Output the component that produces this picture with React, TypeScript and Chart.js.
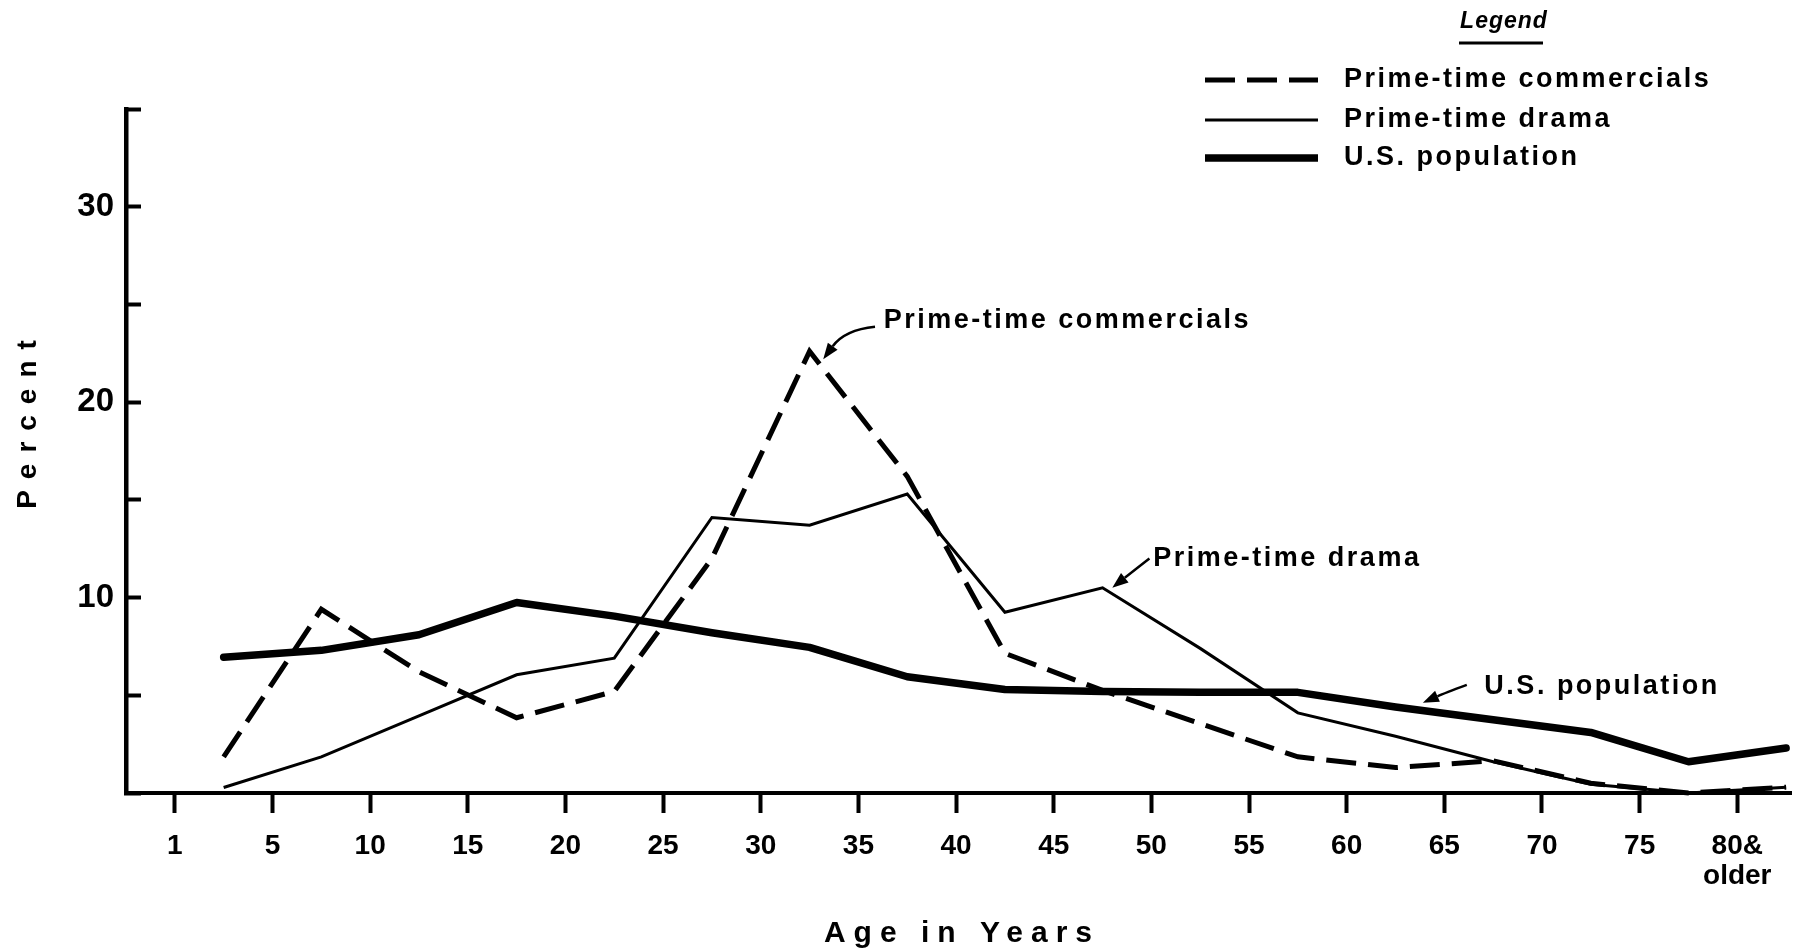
import React, { useEffect, useRef } from "react";
import { Chart, registerables } from "chart.js";

Chart.register(...registerables);

// ---- Data ----
// x axis: tick i sits at age boundary label ageTickLabels[i]; each age group is plotted between two ticks
const ageTickLabels: (string | string[])[] = [
  "1", "5", "10", "15", "20", "25", "30", "35", "40", "45", "50", "55", "60", "65", "70", "75", ["80&", "older"],
];
const ageGroupPositions = [0.5, 1.5, 2.5, 3.5, 4.5, 5.5, 6.5, 7.5, 8.5, 9.5, 10.5, 11.5, 12.5, 13.5, 14.5, 15.5, 16.5];

const seriesNames = ["Prime-time commercials", "Prime-time drama", "U.S. population"];

const primeTimeCommercials = [1.85, 9.4, 6.2, 3.85, 5.2, 12.0, 22.6, 16.2, 7.15, 5.25, 3.55, 1.85, 1.3, 1.65, 0.5, 0.0, 0.3];
const primeTimeDrama = [0.28, 1.85, 3.95, 6.05, 6.9, 14.1, 13.7, 15.3, 9.25, 10.5, 7.4, 4.1, 2.9, 1.6, 0.45, 0.0, 0.3];
const usPopulation = [6.95, 7.3, 8.1, 9.75, 9.05, 8.2, 7.45, 5.95, 5.3, 5.2, 5.15, 5.15, 4.4, 3.75, 3.1, 1.6, 2.3];

const yTickValues = [0, 5, 10, 15, 20, 25, 30, 35];
const yLabeledTicks = [10, 20, 30];

const xAxisTitle = "Age in Years";
const yAxisTitle = "Percent";
const legendTitle = "Legend";

// callout labels, placed in data units (x = axis position, y = percent)
const callouts = [
  { text: "Prime-time commercials", tx: 7.26, ty: 24.15, from: [7.17, 23.86], ctrl: [6.86, 23.7], to: [6.64, 22.2] },
  { text: "Prime-time drama", tx: 10.02, ty: 12.02, from: [9.98, 12.0], ctrl: [9.8, 11.3], to: [9.6, 10.5] },
  { text: "U.S. population", tx: 13.41, ty: 5.47, from: [13.23, 5.53], ctrl: [13.0, 5.1], to: [12.78, 4.62] },
];

const FONT = "'Liberation Sans', Arial, Helvetica, sans-serif";

const decorPlugin = {
  id: "decor",
  afterDraw(chart: any) {
    const ctx: CanvasRenderingContext2D = chart.ctx;
    const xs = chart.scales.x;
    const ys = chart.scales.y;
    const ds = chart.data.datasets;
    ctx.save();
    ctx.fillStyle = "#000";
    ctx.strokeStyle = "#000";

    // axis titles
    ctx.textAlign = "center";
    ctx.textBaseline = "middle";
    (ctx as any).letterSpacing = "11px";
    ctx.font = `bold 28px ${FONT}`;
    ctx.save();
    ctx.translate(28, 419);
    ctx.rotate(-Math.PI / 2);
    ctx.fillText(yAxisTitle, 0, 0);
    ctx.restore();

    (ctx as any).letterSpacing = "8px";
    ctx.font = `bold 30px ${FONT}`;
    ctx.fillText(xAxisTitle, 962, 934);

    // legend
    (ctx as any).letterSpacing = "1px";
    ctx.font = `italic bold 23px ${FONT}`;
    ctx.fillText(legendTitle, 1504, 22);
    ctx.lineWidth = 3;
    ctx.beginPath();
    ctx.moveTo(1459, 43);
    ctx.lineTo(1543, 43);
    ctx.stroke();

    const rowsY = [80, 120, 158];
    ctx.textAlign = "left";
    (ctx as any).letterSpacing = "2.5px";
    ctx.font = `bold 27px ${FONT}`;
    ds.forEach((d: any, i: number) => {
      ctx.save();
      ctx.lineWidth = d.borderWidth;
      ctx.setLineDash(d.borderDash || []);
      ctx.lineCap = "butt";
      ctx.beginPath();
      ctx.moveTo(1205, rowsY[i]);
      ctx.lineTo(1318, rowsY[i]);
      ctx.stroke();
      ctx.restore();
      ctx.fillText(d.label, 1344, rowsY[i]);
    });

    // callouts with arrows
    callouts.forEach((c) => {
      const tx = xs.getPixelForValue(c.tx);
      const ty = ys.getPixelForValue(c.ty);
      ctx.fillText(c.text, tx, ty);
      const fx = xs.getPixelForValue(c.from[0]);
      const fy = ys.getPixelForValue(c.from[1]);
      const cx = xs.getPixelForValue(c.ctrl[0]);
      const cy = ys.getPixelForValue(c.ctrl[1]);
      const ex = xs.getPixelForValue(c.to[0]);
      const ey = ys.getPixelForValue(c.to[1]);
      const ang = Math.atan2(ey - cy, ex - cx);
      const headLen = 16;
      const bx = ex - headLen * Math.cos(ang);
      const by = ey - headLen * Math.sin(ang);
      ctx.lineWidth = 2.5;
      ctx.setLineDash([]);
      ctx.beginPath();
      ctx.moveTo(fx, fy);
      ctx.quadraticCurveTo(cx, cy, bx, by);
      ctx.stroke();
      const hw = 6;
      ctx.beginPath();
      ctx.moveTo(ex, ey);
      ctx.lineTo(bx + hw * Math.sin(ang), by - hw * Math.cos(ang));
      ctx.lineTo(bx - hw * Math.sin(ang), by + hw * Math.cos(ang));
      ctx.closePath();
      ctx.fill();
    });

    ctx.restore();
  },
};

function toPoints(values: number[]) {
  return ageGroupPositions.map((x, i) => ({ x, y: values[i] }));
}

export default function App() {
  const canvasRef = useRef<HTMLCanvasElement | null>(null);

  useEffect(() => {
    document.body.style.margin = "0";
    document.body.style.background = "#fff";
    const canvas = canvasRef.current;
    if (!canvas) return;
    const chart = new Chart(canvas, {
      type: "line",
      data: {
        datasets: [
          {
            label: seriesNames[0],
            data: toPoints(primeTimeCommercials),
            borderColor: "#000",
            backgroundColor: "#000",
            borderWidth: 5,
            borderDash: [30, 12],
            borderCapStyle: "butt",
            borderJoinStyle: "miter",
            pointRadius: 0,
            tension: 0,
            fill: false,
            clip: false,
          },
          {
            label: seriesNames[1],
            data: toPoints(primeTimeDrama),
            borderColor: "#000",
            backgroundColor: "#000",
            borderWidth: 3,
            borderJoinStyle: "miter",
            pointRadius: 0,
            tension: 0,
            fill: false,
            clip: false,
          },
          {
            label: seriesNames[2],
            data: toPoints(usPopulation),
            borderColor: "#000",
            backgroundColor: "#000",
            borderWidth: 7.5,
            borderJoinStyle: "round",
            borderCapStyle: "round",
            pointRadius: 0,
            tension: 0,
            fill: false,
            clip: false,
          },
        ],
      },
      options: {
        animation: false,
        responsive: false,
        devicePixelRatio: 1,
        layout: { padding: { top: 109, right: 17, left: 0, bottom: 0 } },
        plugins: {
          legend: { display: false },
          tooltip: { enabled: false },
          title: { display: false },
        },
        scales: {
          x: {
            type: "linear",
            position: "bottom",
            min: -0.5,
            max: 16.55,
            afterBuildTicks: (s: any) => {
              s.ticks = ageTickLabels.map((_, i) => ({ value: i }));
            },
            afterFit: (s: any) => {
              s.height = 159;
            },
            ticks: {
              autoSkip: false,
              maxRotation: 0,
              minRotation: 0,
              padding: 18,
              color: "#000",
              font: { family: FONT, size: 28, weight: "bold", lineHeight: 1.08 },
              callback: (v: any) => {
                const i = Math.round(Number(v));
                return ageTickLabels[i] ?? "";
              },
            },
            grid: {
              drawOnChartArea: false,
              drawTicks: true,
              tickLength: 20,
              tickWidth: 4,
              tickColor: "#000",
            },
            border: { display: true, color: "#000", width: 4 },
          },
          y: {
            type: "linear",
            min: 0,
            max: 35,
            afterBuildTicks: (s: any) => {
              s.ticks = yTickValues.map((v) => ({ value: v }));
            },
            afterFit: (s: any) => {
              s.width = 126;
            },
            ticks: {
              padding: 27,
              color: "#000",
              font: { family: FONT, size: 33, weight: "bold" },
              callback: (v: any) => (yLabeledTicks.includes(Number(v)) ? String(v) : ""),
            },
            grid: {
              drawOnChartArea: false,
              drawTicks: true,
              tickLength: -15,
              tickWidth: 4,
              tickColor: "#000",
            },
            border: { display: true, color: "#000", width: 4.5 },
          },
        },
      },
      plugins: [decorPlugin],
    } as any);
    return () => {
      chart.destroy();
    };
  }, []);

  return (
    <div style={{ position: "fixed", left: 0, top: 0, width: 1808, height: 952, background: "#fff" }}>
      <canvas ref={canvasRef} width={1808} height={952} style={{ display: "block", width: 1808, height: 952 }} />
    </div>
  );
}
